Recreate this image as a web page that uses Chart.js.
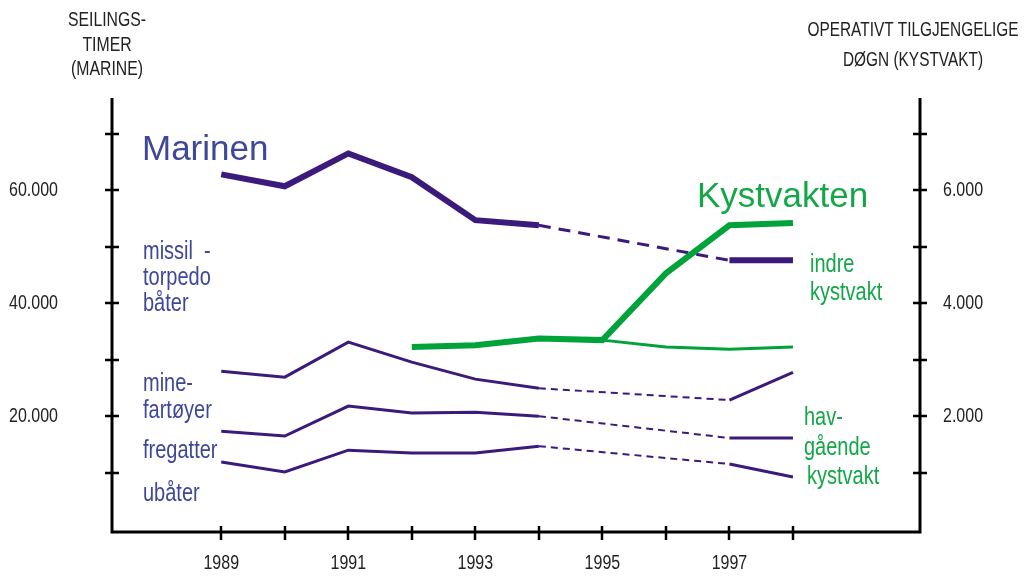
<!DOCTYPE html>
<html>
<head>
<meta charset="utf-8">
<script src="https://cdn.jsdelivr.net/npm/chart.js@4"></script>
<style>
  html, body { margin: 0; padding: 0; background: #fff; }
  #wrap { width: 1026px; height: 578px; }
</style>
</head>
<body>
<div id="wrap"><canvas id="chart" width="1026" height="578"></canvas></div>
<script>
// Marine sailing hours (left axis) and coast guard operating days (right axis)

// X axis
const yearTicks = [1989, 1990, 1991, 1992, 1993, 1994, 1995, 1996, 1997, 1998];
const yearLabels = [1989, 1991, 1993, 1995, 1997];

// Y axis ticks
const leftTicks = [10000, 20000, 30000, 40000, 50000, 60000, 70000];
const leftLabels = [20000, 40000, 60000];
const rightTicks = [1000, 2000, 3000, 4000, 5000, 6000, 7000];
const rightLabels = [2000, 4000, 6000];

// Marinen series (years 1995/1996 not reported -> dashed gap)
const navyYears = [1989, 1990, 1991, 1992, 1993, 1994, 1997, 1998];
const marinenTotal = [62800, 60700, 66500, 62300, 54700, 53800, 47600, 47600];
const navyUpper = [28000, 26950, 33150, 29600, 26600, 25000, 22900, 27800];
const navyMiddle = [17400, 16550, 21850, 20600, 20750, 20050, 16200, 16200];
const navyLower = [11950, 10200, 14050, 13550, 13550, 14750, 11600, 9300];

// Kystvakten series (right axis)
const cgYears = [1992, 1993, 1994, 1995, 1996, 1997, 1998];
const kystvaktenTotal = [3230, 3260, 3380, 3350, 4530, 5380, 5420];
const havYears = [1995, 1996, 1997, 1998];
const havgaende = [3350, 3230, 3190, 3230];

const PURPLE = '#3b1a7c';
const GREEN = '#00a23a';
const LABEL_PURPLE = '#3f4799';
const LABEL_GREEN = '#14a748';
const AXIS_TEXT = '#222';
const SANS = '"Liberation Sans", Arial, sans-serif';
const NARROW = 0.8; // horizontal squeeze for the condensed captions

function pts(xs, ys) {
  return xs.map((x, i) => ({ x: x, y: ys[i] }));
}

// dashed segment between 1994 and 1997 (index 5 -> 6)
function navyDataset(values, width, dashWidth, dash) {
  return {
    data: pts(navyYears, values),
    yAxisID: 'y',
    borderColor: PURPLE,
    borderWidth: width,
    borderCapStyle: 'butt',
    borderJoinStyle: 'miter',
    pointRadius: 0,
    fill: false,
    tension: 0,
    segment: {
      borderDash: ctx => ctx.p0DataIndex === 5 ? dash : undefined,
      borderWidth: ctx => ctx.p0DataIndex === 5 ? dashWidth : undefined
    }
  };
}

// Texts placed on the figure
const notes = [
  { text: 'Marinen', x: 142, y: 150, size: 35, squeeze: 1, color: LABEL_PURPLE },
  { text: 'missil  -', x: 143, y: 252, size: 25, squeeze: NARROW, color: LABEL_PURPLE },
  { text: 'torpedo', x: 143, y: 278, size: 25, squeeze: NARROW, color: LABEL_PURPLE },
  { text: 'båter', x: 143, y: 304, size: 25, squeeze: NARROW, color: LABEL_PURPLE },
  { text: 'mine-', x: 143, y: 384, size: 25, squeeze: NARROW, color: LABEL_PURPLE },
  { text: 'fartøyer', x: 143, y: 411, size: 25, squeeze: NARROW, color: LABEL_PURPLE },
  { text: 'fregatter', x: 143, y: 451, size: 25, squeeze: NARROW, color: LABEL_PURPLE },
  { text: 'ubåter', x: 143, y: 494, size: 25, squeeze: NARROW, color: LABEL_PURPLE },
  { text: 'Kystvakten', x: 697, y: 197, size: 35, squeeze: 1, color: LABEL_GREEN },
  { text: 'indre', x: 810, y: 265, size: 25, squeeze: NARROW, color: LABEL_GREEN },
  { text: 'kystvakt', x: 810, y: 293, size: 25, squeeze: NARROW, color: LABEL_GREEN },
  { text: 'hav-', x: 804, y: 418, size: 25, squeeze: NARROW, color: LABEL_GREEN },
  { text: 'gående', x: 804, y: 448, size: 25, squeeze: NARROW, color: LABEL_GREEN },
  { text: 'kystvakt', x: 807, y: 477, size: 25, squeeze: NARROW, color: LABEL_GREEN }
];

function fmt(v) {
  return v.toLocaleString('de-DE');
}

// draw text squeezed horizontally (no narrow font installed)
function squeezed(c, text, x, y, factor) {
  const w = c.measureText(text).width * factor;
  c.fillText(text, x, y, w);
}

const axesPlugin = {
  id: 'figureAxes',
  afterDraw(chart) {
    const c = chart.ctx;
    const a = chart.chartArea;
    const sx = chart.scales.x, sy = chart.scales.y, sr = chart.scales.y2;
    c.save();
    c.strokeStyle = '#000';
    c.lineCap = 'butt';

    // frame: left, bottom, right
    c.lineWidth = 3;
    c.beginPath();
    c.moveTo(a.left, a.top);
    c.lineTo(a.left, a.bottom);
    c.lineTo(a.right, a.bottom);
    c.lineTo(a.right, a.top);
    c.stroke();

    // tick marks crossing the axes
    c.lineWidth = 2.5;
    c.beginPath();
    yearTicks.forEach(t => {
      const px = Math.round(sx.getPixelForValue(t));
      c.moveTo(px, a.bottom - 6);
      c.lineTo(px, a.bottom + 8);
    });
    leftTicks.forEach(t => {
      const py = Math.round(sy.getPixelForValue(t));
      c.moveTo(a.left - 7, py);
      c.lineTo(a.left + 7, py);
    });
    rightTicks.forEach(t => {
      const py = Math.round(sr.getPixelForValue(t));
      c.moveTo(a.right - 7, py);
      c.lineTo(a.right + 7, py);
    });
    c.stroke();

    // tick labels
    c.fillStyle = AXIS_TEXT;
    c.font = '20px ' + SANS;
    c.textBaseline = 'middle';
    c.textAlign = 'center';
    yearLabels.forEach(t => squeezed(c, String(t), sx.getPixelForValue(t), 563, NARROW));
    c.textAlign = 'right';
    leftLabels.forEach(t => squeezed(c, fmt(t), 58, sy.getPixelForValue(t), NARROW));
    c.textAlign = 'left';
    rightLabels.forEach(t => squeezed(c, fmt(t), 943, sr.getPixelForValue(t), NARROW));

    // axis titles
    c.font = '20px ' + SANS;
    c.textAlign = 'center';
    squeezed(c, 'SEILINGS-', 107, 20, 0.79);
    squeezed(c, 'TIMER', 107, 45, 0.79);
    squeezed(c, '(MARINE)', 107, 69, 0.79);
    squeezed(c, 'OPERATIVT TILGJENGELIGE', 913, 30, 0.77);
    squeezed(c, 'DØGN (KYSTVAKT)', 913, 60, 0.77);

    // series annotations
    c.textAlign = 'left';
    notes.forEach(n => {
      c.font = n.size + 'px ' + SANS;
      c.fillStyle = n.color;
      squeezed(c, n.text, n.x, n.y, n.squeeze);
    });
    c.restore();
  }
};

new Chart(document.getElementById('chart').getContext('2d'), {
  type: 'line',
  data: {
    datasets: [
      {
        data: pts(cgYears, kystvaktenTotal),
        yAxisID: 'y2',
        borderColor: GREEN,
        borderWidth: 6,
        borderCapStyle: 'butt',
        pointRadius: 0,
        fill: false,
        tension: 0
      },
      {
        data: pts(havYears, havgaende),
        yAxisID: 'y2',
        borderColor: GREEN,
        borderWidth: 3,
        borderCapStyle: 'butt',
        pointRadius: 0,
        fill: false,
        tension: 0
      },
      navyDataset(marinenTotal, 6, 3, [12, 8]),
      navyDataset(navyUpper, 3, 2, [7, 5]),
      navyDataset(navyMiddle, 3, 2, [7, 5]),
      navyDataset(navyLower, 3, 2, [7, 5])
    ]
  },
  options: {
    responsive: false,
    animation: false,
    devicePixelRatio: 1,
    layout: { padding: { left: 112, right: 106, top: 98, bottom: 46 } },
    plugins: { legend: { display: false }, tooltip: { enabled: false } },
    scales: {
      x: { type: 'linear', min: 1987.28, max: 2000, display: false },
      y: { type: 'linear', min: -420, max: 76300, display: false },
      y2: { type: 'linear', position: 'right', min: -42, max: 7630, display: false }
    }
  },
  plugins: [axesPlugin]
});
</script>
</body>
</html>
